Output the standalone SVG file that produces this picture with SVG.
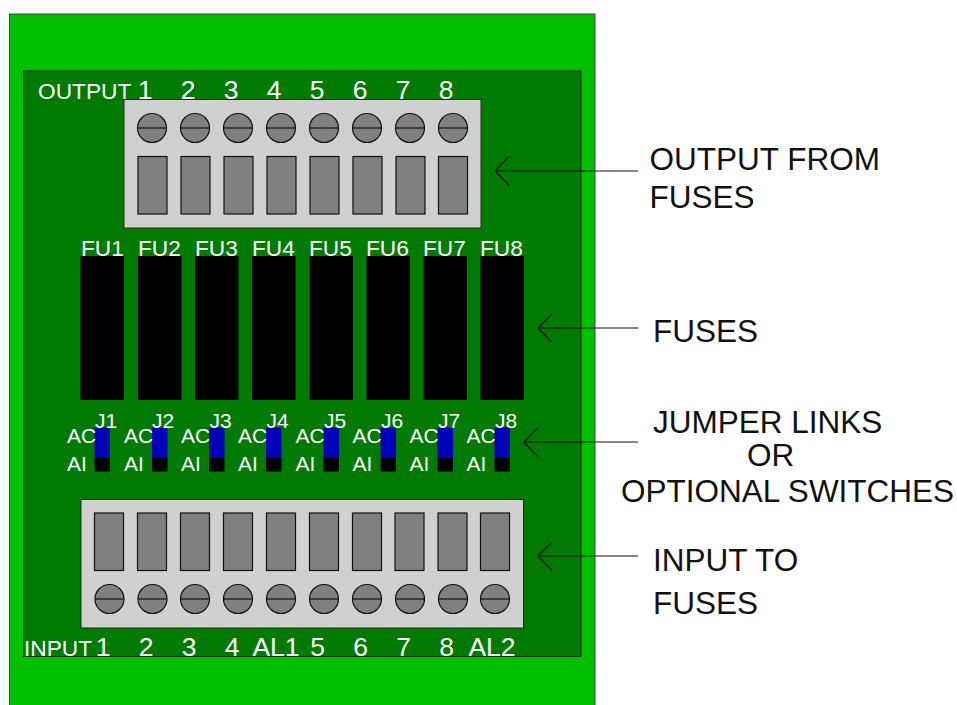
<svg xmlns="http://www.w3.org/2000/svg" width="957" height="705" viewBox="0 0 957 705">
<style>
text{font-family:"Liberation Sans",Arial,sans-serif}
.w{fill:#fff}
.s{font-size:22.7px}
.m{font-size:26.5px}
.j{font-size:21px}
.l{font-size:31.5px;fill:#111}
.b{fill:#d0d0d0;stroke:#222;stroke-width:1}
.g{fill:#808080;stroke:#111;stroke-width:1.2}
.ln{stroke:#111;stroke-width:1.2;fill:none}
.f{fill:#000}
.bl{fill:#0000b8}
</style>
<defs>
<g id="screw"><circle r="14.5" class="g"/><path d="M-14.5 0H14.5" class="ln"/></g>
<g id="slot"><rect width="29" height="57.5" class="g"/></g>
<g id="jumper"><rect x="0" y="0" width="15.5" height="30" class="bl"/><rect x="0" y="30" width="15.5" height="14" class="f"/></g>
</defs>
<g id="board"><rect x="9.5" y="14" width="585.5" height="700" fill="#00c000" stroke="#444" stroke-width="1"/></g>
<g id="panel"><rect x="23.5" y="71" width="557.5" height="585.5" fill="#007a00" stroke="#002a00" stroke-width="1"/></g>
<g id="output-labels" class="w">
<text x="38" y="99" class="s">OUTPUT</text>
<text x="145" y="99" class="m" text-anchor="middle">1</text><text x="188" y="99" class="m" text-anchor="middle">2</text><text x="231" y="99" class="m" text-anchor="middle">3</text><text x="274" y="99" class="m" text-anchor="middle">4</text><text x="317" y="99" class="m" text-anchor="middle">5</text><text x="360" y="99" class="m" text-anchor="middle">6</text><text x="403" y="99" class="m" text-anchor="middle">7</text><text x="446" y="99" class="m" text-anchor="middle">8</text>
</g>
<g id="output-block">
<rect x="124" y="99.5" width="357" height="128.5" class="b"/>
<use href="#screw" x="152" y="128"/><use href="#screw" x="195" y="128"/><use href="#screw" x="238" y="128"/><use href="#screw" x="281" y="128"/><use href="#screw" x="324" y="128"/><use href="#screw" x="367" y="128"/><use href="#screw" x="410" y="128"/><use href="#screw" x="453" y="128"/>
<use href="#slot" x="138" y="156.5"/><use href="#slot" x="181" y="156.5"/><use href="#slot" x="224" y="156.5"/><use href="#slot" x="267" y="156.5"/><use href="#slot" x="310" y="156.5"/><use href="#slot" x="353" y="156.5"/><use href="#slot" x="396" y="156.5"/><use href="#slot" x="438.500" y="156.5"/>
</g>
<g id="fuses">
<rect x="80.500" y="256" width="43.500" height="144" class="f"/><rect x="138" y="256" width="43.500" height="144" class="f"/><rect x="195" y="256" width="43.500" height="144" class="f"/><rect x="252" y="256" width="43.500" height="144" class="f"/><rect x="309.500" y="256" width="43.500" height="144" class="f"/><rect x="366.500" y="256" width="43.500" height="144" class="f"/><rect x="423.500" y="256" width="43.500" height="144" class="f"/><rect x="480.500" y="256" width="43.500" height="144" class="f"/>
<g class="w">
<text x="81" y="256" class="s">FU1</text><text x="138" y="256" class="s">FU2</text><text x="195" y="256" class="s">FU3</text><text x="252" y="256" class="s">FU4</text><text x="309" y="256" class="s">FU5</text><text x="366" y="256" class="s">FU6</text><text x="423" y="256" class="s">FU7</text><text x="480" y="256" class="s">FU8</text>
</g>
</g>
<g id="jumpers">
<use href="#jumper" x="94.500" y="427.500"/><use href="#jumper" x="152" y="427.500"/><use href="#jumper" x="209" y="427.500"/><use href="#jumper" x="266" y="427.500"/><use href="#jumper" x="323.500" y="427.500"/><use href="#jumper" x="380.500" y="427.500"/><use href="#jumper" x="437.500" y="427.500"/><use href="#jumper" x="494.500" y="427.500"/>
<g class="w j">
<text x="67" y="442.500">AC</text><text x="67" y="470.500">AI</text><text x="95" y="428">J1</text>
<text x="124" y="442.500">AC</text><text x="124" y="470.500">AI</text><text x="152" y="428">J2</text>
<text x="181" y="442.500">AC</text><text x="181" y="470.500">AI</text><text x="209.500" y="428">J3</text>
<text x="238" y="442.500">AC</text><text x="238" y="470.500">AI</text><text x="266.500" y="428">J4</text>
<text x="295.500" y="442.500">AC</text><text x="295.500" y="470.500">AI</text><text x="324" y="428">J5</text>
<text x="352.500" y="442.500">AC</text><text x="352.500" y="470.500">AI</text><text x="381" y="428">J6</text>
<text x="409.500" y="442.500">AC</text><text x="409.500" y="470.500">AI</text><text x="438" y="428">J7</text>
<text x="466.500" y="442.500">AC</text><text x="466.500" y="470.500">AI</text><text x="495" y="428">J8</text>
</g>
</g>
<g id="input-block">
<rect x="81" y="499.500" width="442.500" height="128.500" class="b"/>
<use href="#slot" x="94.500" y="513"/><use href="#slot" x="137.500" y="513"/><use href="#slot" x="180.500" y="513"/><use href="#slot" x="223.500" y="513"/><use href="#slot" x="266.500" y="513"/><use href="#slot" x="309.500" y="513"/><use href="#slot" x="352.500" y="513"/><use href="#slot" x="395" y="513"/><use href="#slot" x="438" y="513"/><use href="#slot" x="480.500" y="513"/>
<use href="#screw" x="109.500" y="599"/><use href="#screw" x="152.500" y="599"/><use href="#screw" x="195" y="599"/><use href="#screw" x="238" y="599"/><use href="#screw" x="281" y="599"/><use href="#screw" x="324" y="599"/><use href="#screw" x="367" y="599"/><use href="#screw" x="410" y="599"/><use href="#screw" x="453" y="599"/><use href="#screw" x="495" y="599"/>
</g>
<g id="input-labels" class="w">
<text x="24" y="656" class="s">INPUT</text>
<text x="103" y="656" class="m" text-anchor="middle">1</text><text x="146" y="656" class="m" text-anchor="middle">2</text><text x="189" y="656" class="m" text-anchor="middle">3</text><text x="232" y="656" class="m" text-anchor="middle">4</text><text x="276" y="656" class="m" text-anchor="middle">AL1</text><text x="317.500" y="656" class="m" text-anchor="middle">5</text><text x="360.500" y="656" class="m" text-anchor="middle">6</text><text x="403.500" y="656" class="m" text-anchor="middle">7</text><text x="446.500" y="656" class="m" text-anchor="middle">8</text><text x="492" y="656" class="m" text-anchor="middle">AL2</text>
</g>
<g id="connectors" class="ln">
<path d="M638 171H495M509 156.500L495 171L509 185.500"/>
<path d="M638 328H538M552 314L538 328L552 342.500"/>
<path d="M638 442H523.500M538 428L523.500 442L538 456.500"/>
<path d="M638 556H538M552 542L538 556L552 570.500"/>
</g>
<g id="callouts">
<text x="649.500" y="170" class="l">OUTPUT FROM</text><text x="649.500" y="208" class="l">FUSES</text>
<text x="653" y="342" class="l">FUSES</text>
<text x="653" y="433" class="l">JUMPER LINKS</text><text x="747" y="466" class="l">OR</text><text x="621" y="502" class="l">OPTIONAL SWITCHES</text>
<text x="653" y="571" class="l">INPUT TO</text><text x="653" y="614" class="l">FUSES</text>
</g>
</svg>
